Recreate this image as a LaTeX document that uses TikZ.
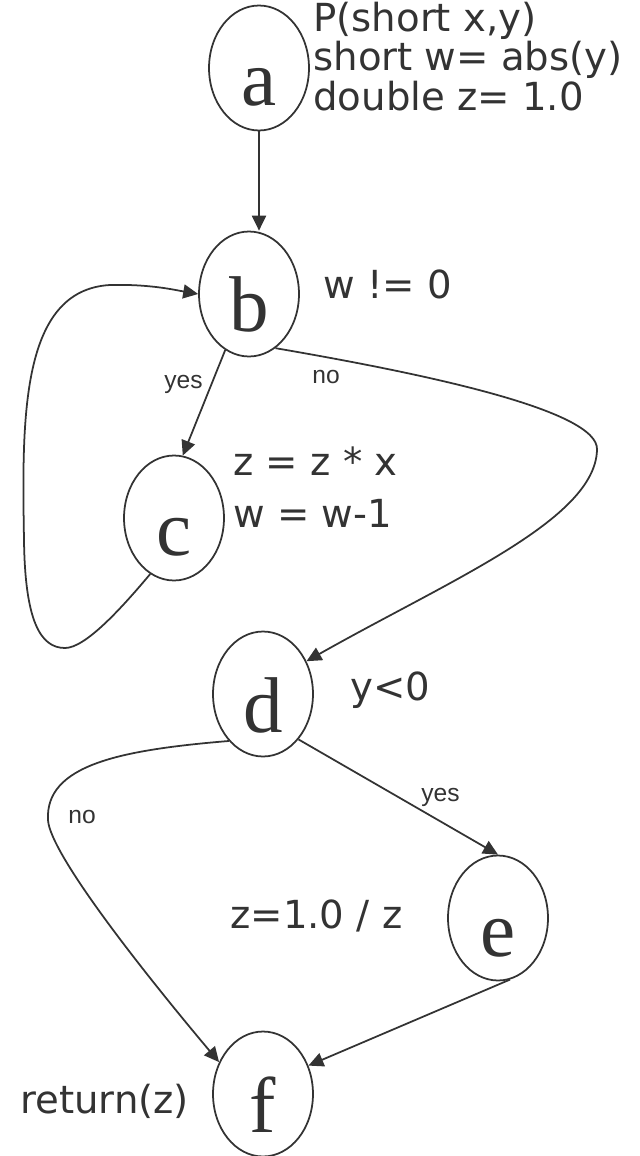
\documentclass[tikz,border=0pt]{standalone}
\usepackage{fontspec}
\setmainfont{Liberation Serif}
\newfontfamily\notefont{DejaVu Sans}
\newfontfamily\tagfont{Liberation Sans}
\usetikzlibrary{arrows.meta,shapes.geometric}

\definecolor{ink}{HTML}{333333}

\tikzset{
  blk/.style={draw=ink,line width=1pt,ellipse,minimum width=2cm,minimum height=2.5cm,inner sep=0pt,text=ink,
    font=\fontsize{45}{50}\selectfont,text height=1.52cm,text depth=0pt},
  note/.style={text=ink,inner sep=0pt,font=\notefont\fontsize{22}{22.4}\selectfont},
  tag/.style={text=ink,inner sep=0pt,font=\tagfont\fontsize{14}{16}\selectfont},
  link/.style={draw=ink,line width=1pt,-{Triangle[length=8.5pt,width=8pt]}}
}

\begin{document}
\begin{tikzpicture}[x=0.02cm,y=-0.02cm]
\useasboundingbox (0,0) rectangle (639,1156);
% blocks of the flow graph
\node[blk] (a) at (259,68) {a};
\node[blk] (b) at (249,294) {b};
\node[blk] (c) at (174,518) {c};
\node[blk] (d) at (263,694) {d};
\node[blk] (e) at (498,918) {e};
\node[blk] (f) at (263,1094) {f};

% code attached to the blocks (base = last line)
\node[note,anchor=base west,align=left] (decl) at (313,110) {P(short x,y)\\short w= abs(y)\\double z= 1.0};
\node[note,anchor=base west] (wtest) at (323,298) {w != 0};
\node[note,anchor=base west,align=left,font=\notefont\fontsize{22}{29.6}\selectfont] (body) at (233,527) {z = z * x\\w = w-1};
\node[note,anchor=base west] (ytest) at (350,700) {y<0};
\node[note,anchor=base west] (recip) at (230,928) {z=1.0 / z};
\node[note,anchor=base west] (ret) at (20,1113) {return(z)};

% edges
\draw[link] (a.south) -- (a.south |- b.north);
\draw[link] (b.-113) -- (c.82);
\draw[link] (c.-113) .. controls (120,610) and (85,648) .. (65,648)
  .. controls (40,648) and (25,620) .. (24,540)
  .. controls (22,420) and (20,290) .. (110,285)
  .. controls (150,284) and (175,290) .. (b.west);
\draw[link] (b.-64) .. controls (420,373) and (600,410) .. (597,450)
  .. controls (595,520) and (450,580) .. (d.37);
\draw[link] (d.-52) -- (e.north);
\draw[link] (d.-126) .. controls (120,750) and (45,765) .. (48,820)
  .. controls (50,855) and (150,980) .. (f.144);
\draw[link] (e.-79) -- (f.32);

% branch labels
\node[tag,anchor=base east] (yes1) at (203,388) {yes};
\node[tag,anchor=base west] (no1) at (312,383) {no};
\node[tag,anchor=base west] (yes2) at (421,801) {yes};
\node[tag,anchor=base west] (no2) at (68,823) {no};
\end{tikzpicture}
\end{document}
